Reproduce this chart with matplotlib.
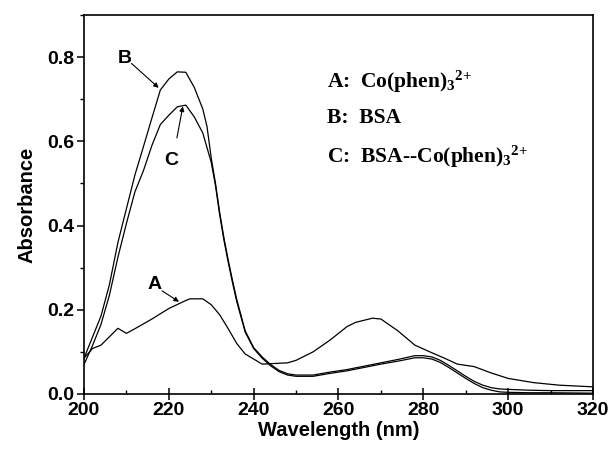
import matplotlib
matplotlib.use("Agg")
import matplotlib.pyplot as plt
from matplotlib.ticker import MultipleLocator, FormatStrFormatter

# ---- data ----
wl_B = [200, 202, 204, 206, 208, 210, 212, 214, 216, 218, 220, 222, 224, 226, 228, 229,
        230, 231, 232, 233, 234, 235, 236, 238, 240, 242, 244, 246, 248, 250, 254, 258,
        262, 266, 270, 274, 278, 280, 282, 284, 286, 288, 290, 292, 294, 296, 298, 300,
        305, 310, 320]
abs_B = [0.085, 0.135, 0.185, 0.26, 0.36, 0.44, 0.52, 0.587, 0.655, 0.722, 0.748, 0.765,
         0.764, 0.728, 0.677, 0.635, 0.56, 0.50, 0.43, 0.37, 0.318, 0.27, 0.225, 0.15,
         0.11, 0.088, 0.070, 0.056, 0.048, 0.045, 0.045, 0.052, 0.058, 0.066, 0.074,
         0.082, 0.091, 0.091, 0.088, 0.080, 0.068, 0.055, 0.042, 0.030, 0.021, 0.015,
         0.012, 0.011, 0.009, 0.008, 0.008]

wl_C = wl_B
abs_C = [0.07, 0.115, 0.165, 0.235, 0.325, 0.405, 0.48, 0.53, 0.59, 0.64, 0.662, 0.682,
         0.686, 0.658, 0.62, 0.585, 0.55, 0.495, 0.425, 0.365, 0.313, 0.265, 0.22, 0.147,
         0.108, 0.085, 0.067, 0.053, 0.045, 0.042, 0.042, 0.049, 0.055, 0.063, 0.071,
         0.078, 0.086, 0.086, 0.083, 0.075, 0.063, 0.050, 0.037, 0.025, 0.015, 0.009,
         0.005, 0.004, 0.003, 0.003, 0.002]

wl_A = [200, 202, 204, 208, 210, 212, 216, 220, 224, 225, 228, 230, 232, 234, 236, 238,
        242, 244, 248, 250, 254, 258, 262, 264, 268, 270, 274, 278, 282, 285, 288, 292,
        296, 300, 306, 312, 320]
abs_A = [0.085, 0.108, 0.116, 0.156, 0.144, 0.155, 0.178, 0.203, 0.222, 0.226, 0.226,
         0.212, 0.188, 0.155, 0.12, 0.095, 0.071, 0.072, 0.074, 0.080, 0.100, 0.128, 0.160,
         0.170, 0.180, 0.178, 0.150, 0.116, 0.098, 0.085, 0.071, 0.065, 0.050, 0.037,
         0.027, 0.021, 0.017]

legend_lines = [r"A:  Co(phen)$_{3}$$^{2{+}}$", "B:  BSA",
                r"C:  BSA--Co(phen)$_{3}$$^{2{+}}$"]

# ---- figure ----
plt.rcParams['mathtext.fontset'] = 'custom'
plt.rcParams['mathtext.rm'] = 'Liberation Serif:bold'
plt.rcParams['mathtext.it'] = 'Liberation Serif:bold'
plt.rcParams['mathtext.bf'] = 'Liberation Serif:bold'

fig = plt.figure(figsize=(6.11, 4.57), dpi=100)
ax = fig.add_axes([84/611, 1-394/457, (593-84)/611, (394-15)/457])

lw = 0.9
ax.plot(wl_A, abs_A, color='black', lw=lw)
ax.plot(wl_B, abs_B, color='black', lw=lw)
ax.plot(wl_C, abs_C, color='black', lw=lw)

ax.set_xlim(200, 320)
ax.set_ylim(0, 0.9)
ax.xaxis.set_major_locator(MultipleLocator(20))
ax.xaxis.set_minor_locator(MultipleLocator(10))
ax.yaxis.set_major_locator(MultipleLocator(0.2))
ax.yaxis.set_minor_locator(MultipleLocator(0.1))
ax.yaxis.set_major_formatter(FormatStrFormatter('%.1f'))

for s in ax.spines.values():
    s.set_linewidth(1.2)

ax.tick_params(axis='x', which='major', direction='inout', length=8, width=1.1,
               pad=1.5)
ax.tick_params(axis='x', which='minor', direction='in', length=3, width=1.0)
ax.tick_params(axis='y', which='major', direction='out', length=5, width=1.1, pad=2)
ax.tick_params(axis='y', which='minor', direction='out', length=3, width=1.0)

for lab in ax.get_xticklabels() + ax.get_yticklabels():
    lab.set_fontfamily('Liberation Sans')
    lab.set_fontweight('bold')
    lab.set_fontsize(14)

ax.set_xlabel('Wavelength (nm)', fontfamily='Liberation Sans', fontweight='bold',
              fontsize=14.5, labelpad=2)
ax.set_ylabel('Absorbance', fontfamily='Liberation Sans', fontweight='bold',
              fontsize=14.5, labelpad=8)

# curve labels with arrows
akw = dict(arrowstyle='-|>', color='black', lw=0.8, mutation_scale=7,
           shrinkA=0, shrinkB=0)
tkw = dict(fontfamily='Liberation Sans', fontweight='bold', fontsize=14,
           ha='center', va='center')
ax.text(209.6, 0.796, 'B', **tkw)
ax.annotate('', xy=(217.6, 0.727), xytext=(211.2, 0.785), arrowprops=akw)
ax.text(220.6, 0.555, 'C', **tkw)
ax.annotate('', xy=(223.3, 0.683), xytext=(221.9, 0.608), arrowprops=akw)
ax.text(216.7, 0.26, 'A', **tkw)
ax.annotate('', xy=(222.4, 0.219), xytext=(218.4, 0.245), arrowprops=akw)

ys = [0.742, 0.655, 0.563]
for t, y in zip(legend_lines, ys):
    ax.text(257.3, y, t, fontfamily='Liberation Serif', fontweight='bold',
            fontsize=15.5, ha='left', va='center')

fig.savefig('out.png', dpi=100)
